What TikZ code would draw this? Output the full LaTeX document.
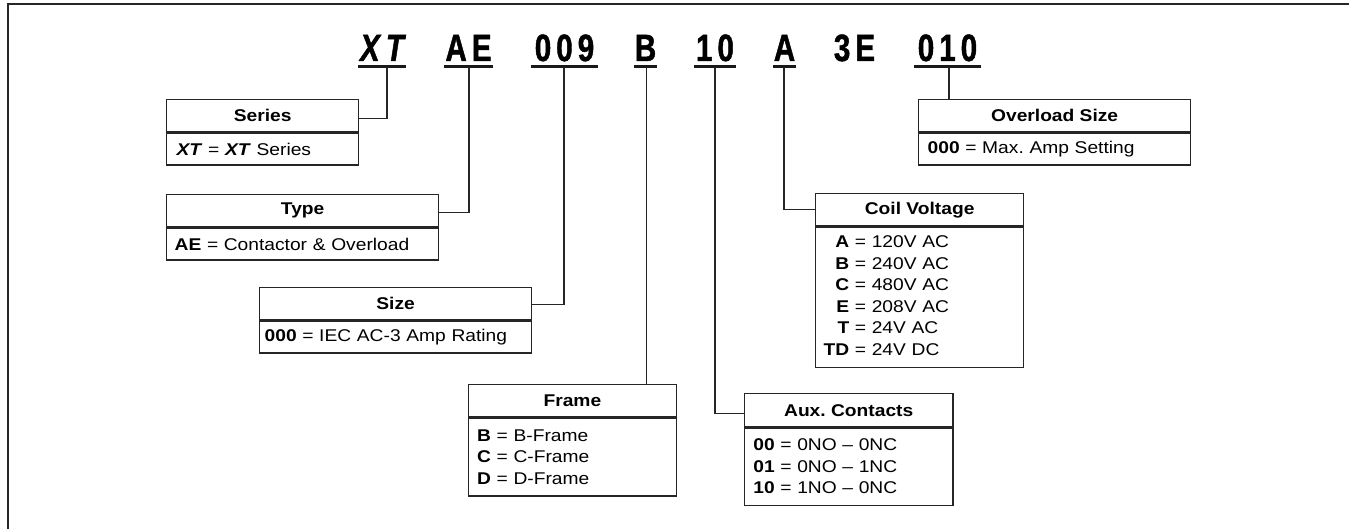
\documentclass[tikz,border=0pt]{standalone}
\usepackage{fontspec}
\setmainfont[FakeStretch=1.13]{Liberation Sans}
\newfontfamily\pnfont[FakeStretch=0.78,FakeBold=1.2]{Liberation Sans}
\frenchspacing
\begin{document}
\begin{tikzpicture}[x=1pt,y=-1pt,
  ln/.style={draw=black!85, line width=1.3pt},
  conn/.style={draw=black!85, line width=1.2pt},
  uline/.style={draw=black!90, line width=3pt},
  pn/.style={anchor=base, inner sep=0pt, font=\pnfont\bfseries\fontsize{38}{42}\selectfont},
  hdr/.style={ln, anchor=north west, inner sep=0pt, font=\bfseries\fontsize{17}{21.5}\selectfont},
  body/.style={ln, anchor=north west, inner ysep=0pt, align=left, font=\fontsize{17}{21.5}\selectfont}]
\useasboundingbox (0,0) rectangle (1349,529);
% outer frame
\draw[line width=1.8pt, black!85] (8,529) -- (8,4) -- (1349,4);

% part number
\node[pn] (pXT) at (382,61) {\itshape X\hspace{6pt}T};
\node[pn] (pAE) at (468.5,61) {A\hspace{5pt}E};
\node[pn] (p009) at (564.5,61) {0\hspace{5pt}0\hspace{5pt}9};
\node[pn] (pB) at (645.5,61) {B};
\node[pn] (p10) at (715,61) {1\hspace{5pt}0};
\node[pn] (pA) at (784.5,61) {A};
\node[pn] (p3E) at (854.5,61) {3\hspace{5pt}E};
\node[pn] (p010) at (947.5,61) {0\hspace{5pt}1\hspace{5pt}0};

\draw[uline] (358,66.5) -- (406,66.5);
\draw[uline] (444,66.5) -- (493,66.5);
\draw[uline] (531,66.5) -- (598,66.5);
\draw[uline] (634,66.5) -- (657,66.5);
\draw[uline] (694,66.5) -- (736,66.5);
\draw[uline] (773,66.5) -- (796,66.5);
\draw[uline] (914,66.5) -- (981,66.5);

\coordinate (cXT) at (387,67);
\coordinate (cAE) at (469,67);
\coordinate (c009) at (564,67);
\coordinate (cB) at (646.5,67);
\coordinate (c10) at (715,67);
\coordinate (cA) at (784,67);
\coordinate (c010) at (949,67);

% Series
\node[hdr, minimum width=192pt, minimum height=32pt] (serH) at (166,99) {Series};
\node[body, inner xsep=10pt, text width=172pt, minimum height=32pt] (serB) at (serH.south west)
  {\textbf{\textit{XT}} = \textbf{\textit{XT}} Series};
% Type
\node[hdr, minimum width=272pt, minimum height=32pt] (typH) at (166,194) {Type};
\node[body, inner xsep=8pt, text width=256pt, minimum height=32pt] (typB) at (typH.south west)
  {\textbf{AE} = Contactor \& Overload};
% Size
\node[hdr, minimum width=272pt, minimum height=32pt] (sizH) at (259,287) {Size};
\node[body, inner xsep=5pt, text width=262pt, minimum height=32pt] (sizB) at (sizH.south west)
  {\textbf{000} = IEC AC-3 Amp Rating};
% Overload
\node[hdr, minimum width=272pt, minimum height=32pt] (ovH) at (918,99) {Overload Size};
\node[body, inner xsep=9pt, text width=254pt, minimum height=32pt] (ovB) at (ovH.south west)
  {\textbf{000} = Max. Amp Setting};
% Frame
\node[hdr, minimum width=208.5pt, minimum height=32.7pt] (frH) at (467.5,383.7) {Frame};
\node[body, inner xsep=9pt, text width=190.5pt, minimum height=77.6pt] (frB) at (frH.south west)
  {\textbf{B} = B-Frame\\ \textbf{C} = C-Frame\\ \textbf{D} = D-Frame};
% Aux
\node[hdr, minimum width=208.7pt, minimum height=33pt] (auxH) at (743.7,393) {Aux. Contacts};
\node[body, inner xsep=9pt, text width=190.7pt, minimum height=77.2pt] (auxB) at (auxH.south west)
  {\textbf{00} = 0NO \textendash{} 0NC\\ \textbf{01} = 0NO \textendash{} 1NC\\ \textbf{10} = 1NO \textendash{} 0NC};
% Coil
\node[hdr, minimum width=208pt, minimum height=32pt] (coH) at (815,193) {Coil Voltage};
\node[body, inner xsep=8pt, text width=192pt, minimum height=140.5pt] (coB) at (coH.south west)
  {\begin{tabular}{@{}r@{\ =\ }l@{}}
   \textbf{A} & 120V AC\\
   \textbf{B} & 240V AC\\
   \textbf{C} & 480V AC\\
   \textbf{E} & 208V AC\\
   \textbf{T} & 24V AC\\
   \textbf{TD} & 24V DC
   \end{tabular}};

% connectors
\draw[conn] (cXT) |- ([yshift=-3pt]serH.east);
\draw[conn] (cAE) |- ([yshift=-2pt]typH.east);
\draw[conn] (c009) |- ([yshift=-1pt]sizH.east);
\draw[conn] (cB) -- (cB |- frH.north);
\draw[conn] (c10) |- ([yshift=-3pt]auxH.west);
\draw[conn] (cA) |- (coH.west);
\draw[conn] (c010) -- (c010 |- ovH.north);
\end{tikzpicture}
\end{document}
